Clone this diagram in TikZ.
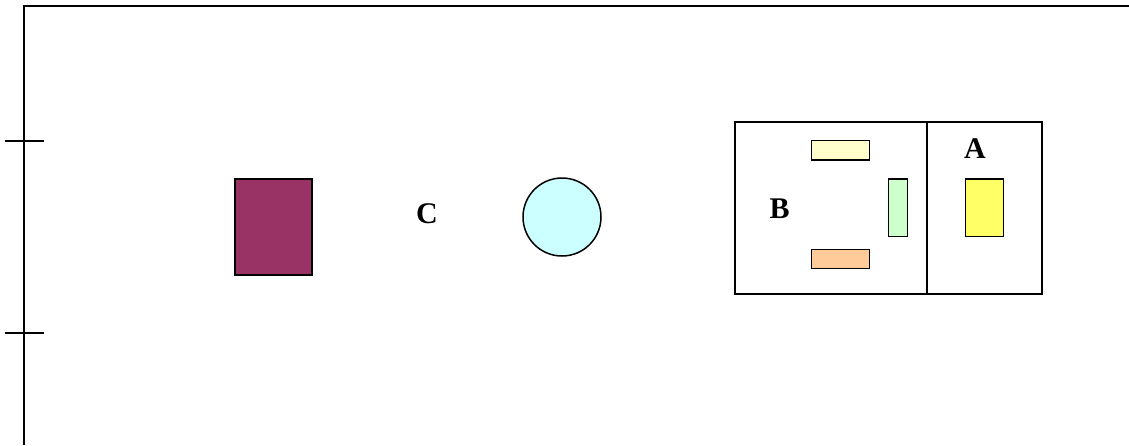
\documentclass[tikz,border=0pt]{standalone}
\usepackage{fontspec}
\setmainfont{Liberation Serif}
\begin{document}
\begin{tikzpicture}[x=1pt,y=-1pt,
  frame/.style={line width=2pt},
  shp/.style={draw=black,line width=1.5pt,inner sep=0pt,outer sep=0pt},
  lbl/.style={font=\fontsize{30}{30}\selectfont\bfseries,inner sep=0pt}]
\useasboundingbox (0,0) rectangle (1129,445);
% frame
\coordinate (fb) at (24,445);
\coordinate (ftl) at (24,6);
\coordinate (ftr) at (1129,6);
\draw[frame] (fb) -- (ftl) -- (ftr);
\coordinate (t1a) at (5,141); \coordinate (t1b) at (44,141);
\coordinate (t2a) at (5,332.5); \coordinate (t2b) at (44,332.5);
\draw[frame] (t1a) -- (t1b);
\draw[frame] (t2a) -- (t2b);
% purple rectangle
\node[shp,fill={rgb,255:red,153;green,51;blue,102},minimum width=77,minimum height=96] (p) at (273.5,227) {};
% C
\node[lbl] (c) at (427,213.5) {C};
% circle
\node[shp,circle,fill={rgb,255:red,204;green,255;blue,255},minimum size=78] (o) at (562,217) {};
% box
\node[shp,minimum width=307,minimum height=172] (box) at (888.3,208) {};
\coordinate (dt) at (927,122);
\coordinate (db) at (927,294);
\draw[line width=1.5pt] (dt) -- (db);
\node[shp,fill={rgb,255:red,255;green,255;blue,204},minimum width=57.6,minimum height=19.3] (r1) at (840.5,150.3) {};
\node[shp,fill={rgb,255:red,204;green,255;blue,204},minimum width=19.4,minimum height=57.7] (r2) at (898,207.8) {};
\node[shp,fill={rgb,255:red,255;green,204;blue,153},minimum width=57.6,minimum height=19.3] (r3) at (840.5,259) {};
\node[shp,fill={rgb,255:red,255;green,255;blue,102},minimum width=38.4,minimum height=57.7] (r4) at (984.5,207.8) {};
\node[lbl] (a) at (975,148.5) {A};
\node[lbl] (b) at (779.5,209) {B};
\end{tikzpicture}
\end{document}
